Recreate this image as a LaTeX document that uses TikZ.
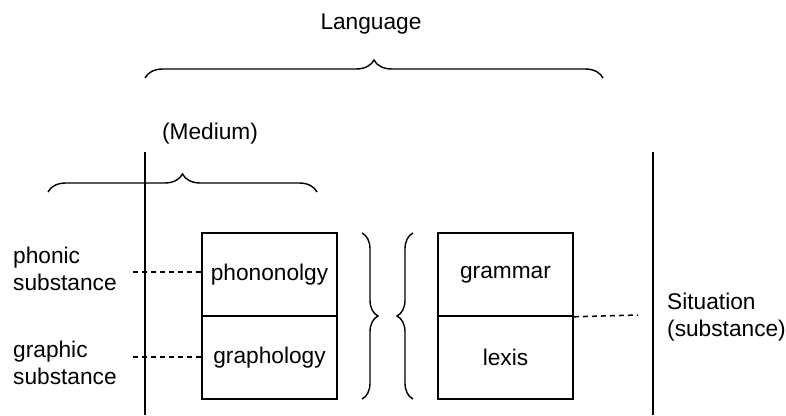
\documentclass[tikz,border=0pt]{standalone}
\usepackage{fontspec}
\setmainfont{Liberation Sans}
\usetikzlibrary{decorations.pathreplacing}
\begin{document}
\begin{tikzpicture}[x=1pt,y=-1pt,
  lbl/.style={font=\fontsize{22.7}{27}\selectfont, inner sep=0pt},
  cell/.style={draw, line width=1.6pt, minimum width=135pt, minimum height=83pt, inner sep=0pt, font=\fontsize{22.7}{27}\selectfont},
  bracel/.style={decorate, decoration={brace, amplitude=18pt}, line width=1.4pt},
  vbrace/.style={decorate, decoration={brace, amplitude=16pt}, line width=1.4pt},
  dsh/.style={dash pattern=on 5pt off 4pt, line width=1.5pt},
  rule/.style={line width=1.6pt}]
\useasboundingbox (0,0) rectangle (786,415);
% titles
\node[lbl] (lang) at (371,24) {Language};
\node[lbl] (med) at (210,134) {(Medium)};
% braces
\coordinate (lb1) at (145,78); \coordinate (lb2) at (603,78);
\draw[bracel] (lb1) -- (lb2);
\coordinate (mb1) at (48,192); \coordinate (mb2) at (317,192);
\draw[bracel] (mb1) -- (mb2);
% vertical rules
\coordinate (v1t) at (145,152); \coordinate (v1b) at (145,415);
\coordinate (v2t) at (653,152); \coordinate (v2b) at (653,415);
\draw[rule] (v1t) -- (v1b);
\draw[rule] (v2t) -- (v2b);
% boxes
\node[cell] (phon) at (269.5,274.5) {phononolgy};
\node[cell] (graph) at (269.5,357.5) {graphology};
\node[cell] (gram) at (505.5,274.5) {grammar};
\node[cell] (lex) at (505.5,357.5) {lexis};
% middle braces
\coordinate (rb1) at (362,233); \coordinate (rb2) at (362,399);
\draw[vbrace] (rb1) -- (rb2);
\coordinate (lc1) at (413,399); \coordinate (lc2) at (413,233);
\draw[vbrace] (lc1) -- (lc2);
% labels
\node[lbl, anchor=west, align=left] (phs) at (13,269) {phonic\\substance};
\node[lbl, anchor=west, align=left] (grs) at (13,363) {graphic\\substance};
\node[lbl, anchor=west, align=left] (sit) at (667,317) {Situation\\(substance)};
% dashed connectors
\coordinate (d1) at (133,272);
\coordinate (d2) at (133,357);
\coordinate (d3) at (638,315);
\draw[dsh] (d1) -- (d1 -| phon.west);
\draw[dsh] (d2) -- (d2 -| graph.west);
\draw[dsh] (gram.south east) -- (d3);
\end{tikzpicture}
\end{document}
